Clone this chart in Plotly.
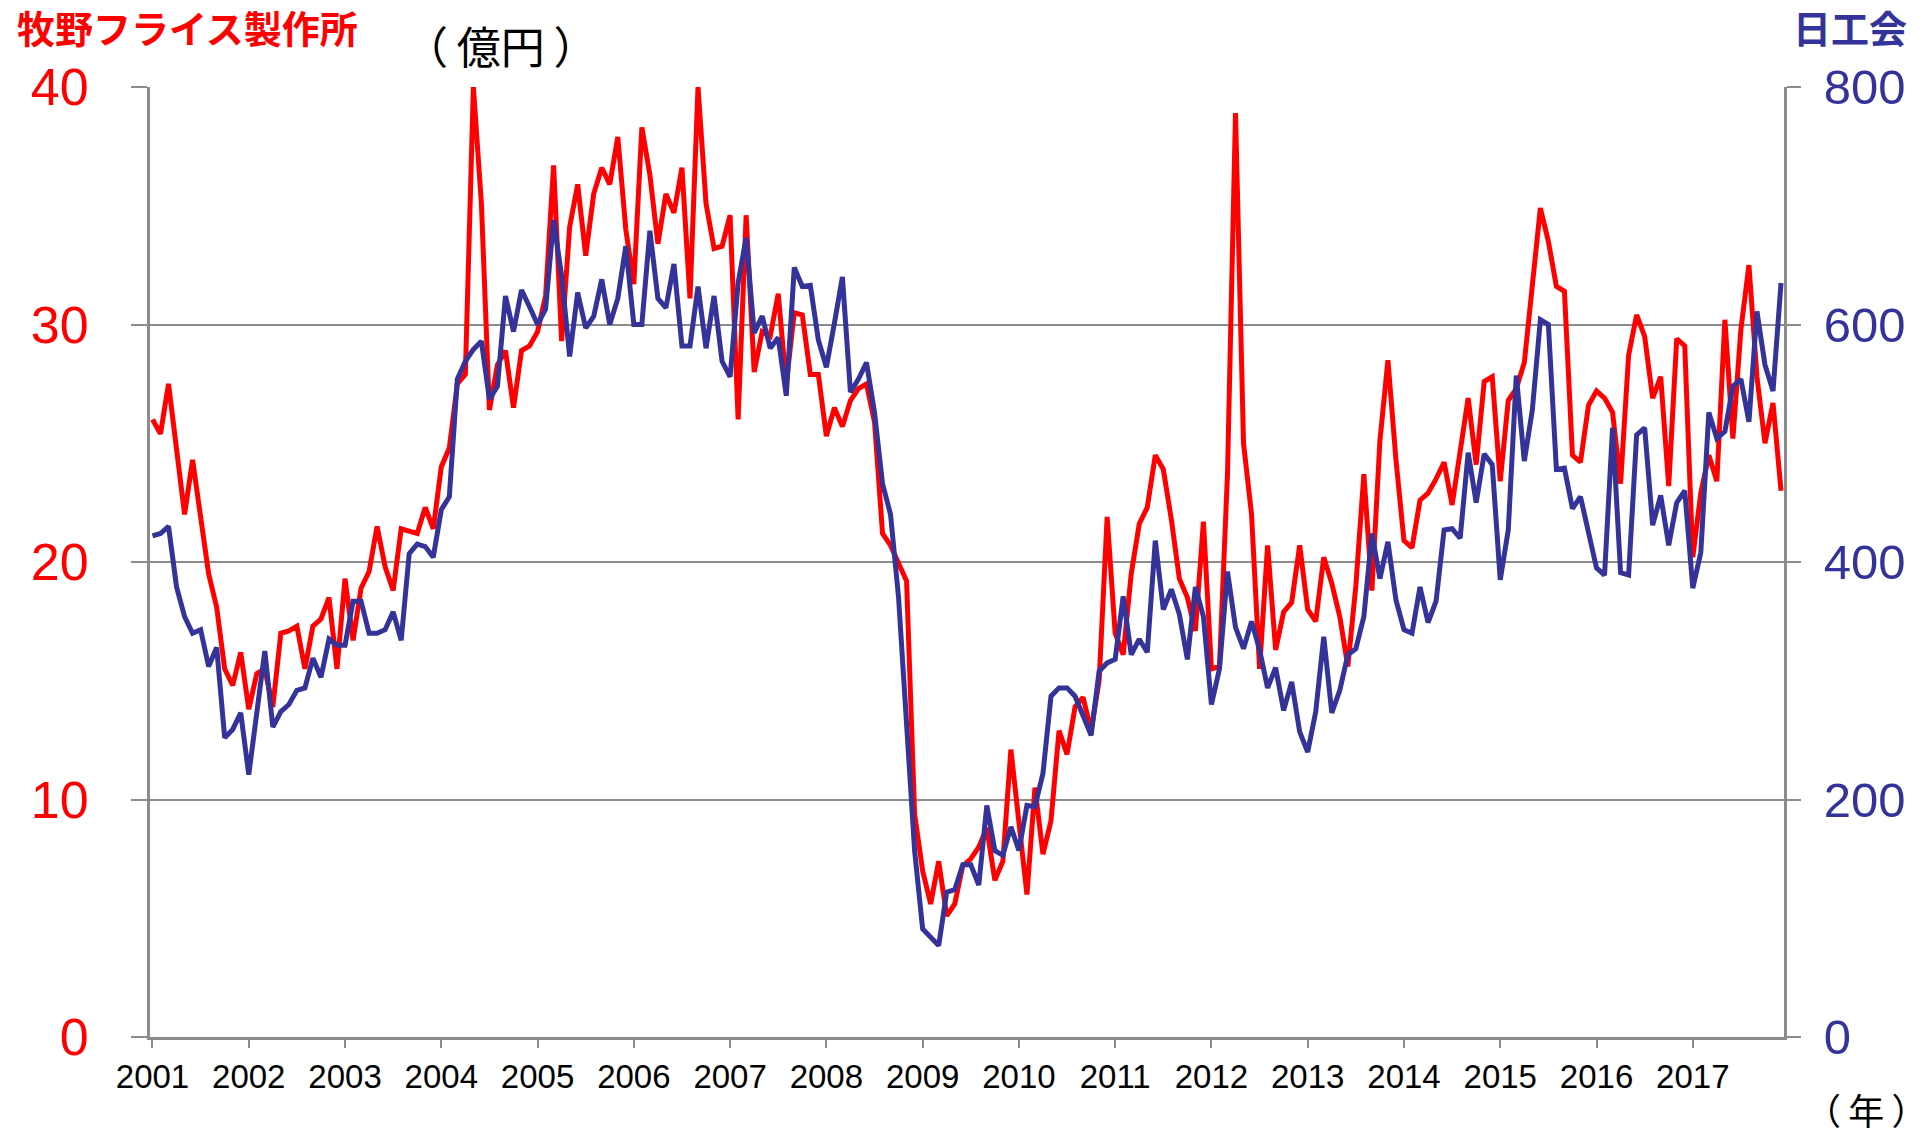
import plotly.graph_objects as go

# ---------------- data (monthly, Jan 2001 - Dec 2017) ----------------
years = [str(y) for y in range(2001, 2018)]

# 牧野フライス製作所 受注 (億円) - left axis
makino = [
    26.0, 25.4, 27.5, 24.8, 22.0, 24.3, 21.8, 19.5, 18.1, 15.5, 14.8, 16.2,
    13.8, 15.3, 15.5, 13.9, 17.0, 17.1, 17.3, 15.5, 17.3, 17.6, 18.5, 15.5,
    19.3, 16.7, 18.9, 19.6, 21.5, 19.8, 18.8, 21.4, 21.3, 21.2, 22.3, 21.4,
    24.0, 24.8, 27.5, 27.9, 40.0, 35.1, 26.4, 28.3, 28.9, 26.5, 28.9, 29.1,
    29.7, 31.2, 36.7, 29.3, 34.1, 35.9, 32.9, 35.5, 36.6, 35.9, 37.9, 34.0,
    31.7, 38.3, 36.3, 33.4, 35.5, 34.7, 36.6, 31.1, 40.0, 35.1, 33.2, 33.3,
    34.6, 26.0, 34.6, 28.0, 29.7, 29.5, 31.3, 27.5, 30.5, 30.4, 27.9, 27.9,
    25.3, 26.5, 25.7, 26.8, 27.3, 27.5, 25.9, 21.2, 20.7, 20.0, 19.2, 9.4,
    7.0, 5.6, 7.4, 5.1, 5.6, 7.2, 7.5, 8.0, 8.8, 6.6, 7.4, 12.1,
    9.0, 6.0, 10.5, 7.7, 9.1, 12.9, 11.9, 13.9, 14.3, 12.9, 15.0, 21.9,
    17.0, 16.1, 19.5, 21.6, 22.3, 24.5, 23.9, 21.8, 19.3, 18.5, 17.1, 21.7,
    15.5, 15.6, 23.7, 38.9, 25.0, 22.0, 15.5, 20.7, 16.3, 17.9, 18.3, 20.7,
    18.0, 17.5, 20.2, 19.1, 17.7, 15.6, 19.0, 23.7, 18.8, 25.1, 28.5, 24.3,
    20.9, 20.6, 22.6, 22.9, 23.5, 24.2, 22.4, 24.6, 26.9, 24.1, 27.6, 27.8,
    23.4, 26.8, 27.3, 28.4, 31.9, 34.9, 33.5, 31.6, 31.4, 24.5, 24.2, 26.6,
    27.2, 26.9, 26.3, 23.3, 28.7, 30.4, 29.5, 26.9, 27.8, 23.2, 29.4, 29.1,
    20.2, 22.9, 24.5, 23.4, 30.2, 25.2, 29.8, 32.5, 27.8, 25.0, 26.7, 23.0,
]

# 日工会 受注 (億円) - right axis
jmtba = [
    422, 424, 430, 379, 354, 340, 343, 312, 328, 252, 259, 273,
    221, 274, 325, 261, 274, 280, 292, 294, 319, 303, 335, 330,
    330, 367, 367, 340, 340, 343, 358, 334, 407, 415, 413, 404,
    444, 455, 554, 569, 579, 586, 537, 548, 624, 594, 629, 615,
    600, 613, 688, 641, 573, 627, 597, 607, 638, 600, 622, 666,
    600, 600, 679, 622, 614, 651, 582, 582, 632, 580, 624, 569,
    556, 635, 673, 593, 607, 580, 589, 540, 648, 632, 633, 587,
    564, 601, 640, 543, 554, 568, 526, 466, 440, 370, 260, 157,
    91, 84, 77, 122, 124, 145, 145, 128, 195, 157, 153, 177,
    157, 195, 194, 222, 287, 294, 294, 287, 270, 254, 308, 315,
    318, 371, 322, 335, 324, 418, 360, 377, 356, 318, 379, 354,
    280, 310, 392, 345, 327, 350, 326, 294, 311, 275, 299, 257,
    240, 274, 337, 273, 292, 322, 327, 354, 424, 386, 417, 368,
    343, 340, 379, 349, 367, 427, 428, 420, 492, 450, 491, 482,
    385, 427, 557, 485, 528, 604, 600, 478, 479, 445, 455, 424,
    395, 389, 513, 391, 389, 507, 513, 431, 456, 414, 450, 460,
    378, 408, 526, 504, 510, 548, 554, 518, 611, 566, 544, 635,
]

left_ticks = [0, 10, 20, 30, 40]
right_ticks = [0, 200, 400, 600, 800]

months = list(range(len(makino)))
year_pos = [12 * k for k in range(len(years))]

RED = "#FF0000"
NAVY = "#333399"
GRID = "#8C8C8C"
LATIN = "Liberation Sans, Arial, sans-serif"
CJK = "Noto Sans CJK JP, sans-serif"

fig = go.Figure()
fig.add_trace(go.Scatter(x=months, y=makino, mode="lines",
                         line=dict(color=RED, width=5), yaxis="y",
                         name="牧野フライス製作所", showlegend=False))
fig.add_trace(go.Scatter(x=months, y=jmtba, mode="lines",
                         line=dict(color=NAVY, width=5), yaxis="y2",
                         name="日工会", showlegend=False))

fig.update_layout(
    width=1928, height=1134, autosize=False,
    margin=dict(l=150, r=144, t=87, b=97),
    paper_bgcolor="white", plot_bgcolor="white",
    font=dict(family=LATIN, color="black"),
    xaxis=dict(
        range=[-0.31, 203.37], tickmode="array", tickvals=year_pos, ticktext=years,
        showgrid=False, zeroline=False, showline=True, linecolor=GRID, linewidth=3,
        ticks="outside", ticklen=8, tickwidth=2, tickcolor=GRID,
        tickfont=dict(size=33, color="black", family=LATIN),
    ),
    yaxis=dict(
        range=[0, 40], tickmode="array", tickvals=left_ticks,
        showgrid=True, gridcolor=GRID, gridwidth=2, zeroline=False,
        showline=True, linecolor=GRID, linewidth=3,
        ticks="outside", ticklen=16, tickwidth=2, tickcolor=GRID,
        tickfont=dict(size=52, color=RED, family=LATIN),
        ticklabelstandoff=32,
    ),
    yaxis2=dict(
        range=[0, 800], tickmode="array", tickvals=right_ticks,
        overlaying="y", side="right", showgrid=False, zeroline=False,
        showline=True, linecolor=GRID, linewidth=3,
        ticks="outside", ticklen=14, tickwidth=2, tickcolor=GRID,
        tickfont=dict(size=49, color=NAVY, family=LATIN),
        ticklabelstandoff=13,
    ),
)

def px_x(px):
    return (px - 150) / 1634.0

def px_y(py):
    return (1036.7 - py) / 949.0

annots = [
    dict(text="<b>牧野フライス製作所</b>", x=px_x(15), y=px_y(27), xanchor="left",
         yanchor="middle", font=dict(size=38, color=RED, family=CJK)),
    dict(text="（\u2009億円\u2009）", x=px_x(501), y=px_y(46), xanchor="center",
         yanchor="middle", font=dict(size=44, color="black", family=CJK)),
    dict(text="<b>日工会</b>", x=px_x(1850), y=px_y(27), xanchor="center",
         yanchor="middle", font=dict(size=38, color=NAVY, family=CJK)),
    dict(text="（\u2009年\u2009）", x=px_x(1866), y=px_y(1109), xanchor="center",
         yanchor="middle", font=dict(size=36, color="black", family=CJK)),
]
for a in annots:
    fig.add_annotation(xref="paper", yref="paper", showarrow=False, **a)

fig.write_html("out.html", config={"displayModeBar": False},
               post_script="document.body.style.margin='0';")
